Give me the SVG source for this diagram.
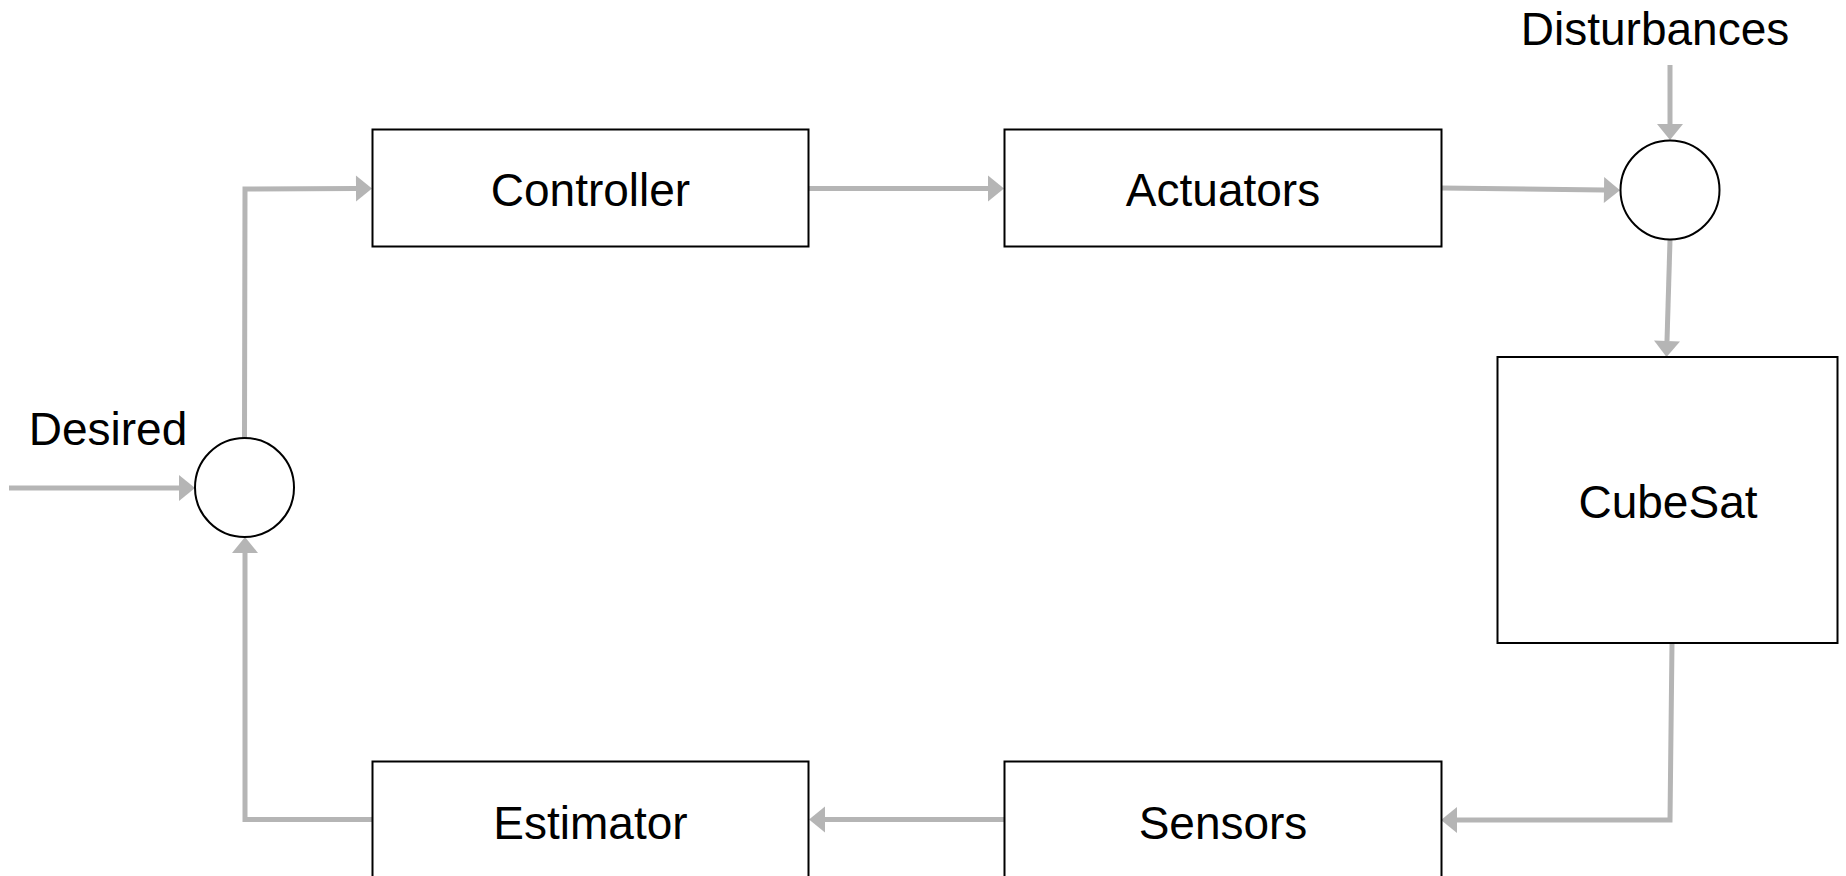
<svg xmlns="http://www.w3.org/2000/svg" width="1846" height="876" viewBox="0 0 1846 876">
<style>
.box{fill:#fff;stroke:#000;stroke-width:2}
.sum{fill:#fff;stroke:#000;stroke-width:2}
.lbl{font-family:"Liberation Sans",Arial,sans-serif;font-size:46px;fill:#000;text-anchor:middle}
.wire{fill:none;stroke:#b5b5b5;stroke-width:5;stroke-linejoin:miter;marker-end:url(#ah)}
</style>
<defs>
<marker id="ah" markerUnits="userSpaceOnUse" markerWidth="16" markerHeight="26" refX="0" refY="13" orient="auto" overflow="visible">
<path d="M0,0 L16,13 L0,26 Z" fill="#b5b5b5"/>
</marker>
</defs>
<rect width="1846" height="876" fill="#fff"/>
<g id="connectors">
<path class="wire" d="M9,488 L179,488"/>
<path class="wire" d="M244.5,438 L245,189 L356,188.5"/>
<path class="wire" d="M809,188.5 L988,188.5"/>
<path class="wire" d="M1441,188 L1604,190"/>
<path class="wire" d="M1670,65 L1670,124"/>
<path class="wire" d="M1670,240 L1667,341"/>
<path class="wire" d="M1672,643 L1670,820 L1457,820"/>
<path class="wire" d="M1004.5,819.5 L825,819.5"/>
<path class="wire" d="M372,819.5 L245,819.5 L245,553"/>
</g>
<g id="desired-label"><text class="lbl" x="108" y="445">Desired</text></g>
<g id="disturbances-label"><text class="lbl" x="1655" y="45">Disturbances</text></g>
<g id="sum-input"><circle class="sum" cx="244.5" cy="487.5" r="49.5"/></g>
<g id="sum-disturbance"><circle class="sum" cx="1670" cy="190" r="49.5"/></g>
<g id="controller"><rect class="box" x="372.5" y="129.5" width="436" height="117"/><text class="lbl" x="590.5" y="206">Controller</text></g>
<g id="actuators"><rect class="box" x="1004.5" y="129.5" width="437" height="117"/><text class="lbl" x="1223" y="206">Actuators</text></g>
<g id="cubesat"><rect class="box" x="1497.5" y="357" width="340" height="286"/><text class="lbl" x="1668" y="518">CubeSat</text></g>
<g id="sensors"><rect class="box" x="1004.5" y="761.5" width="437" height="130"/><text class="lbl" x="1223" y="839">Sensors</text></g>
<g id="estimator"><rect class="box" x="372.5" y="761.5" width="436" height="130"/><text class="lbl" x="590.5" y="839">Estimator</text></g>
</svg>
